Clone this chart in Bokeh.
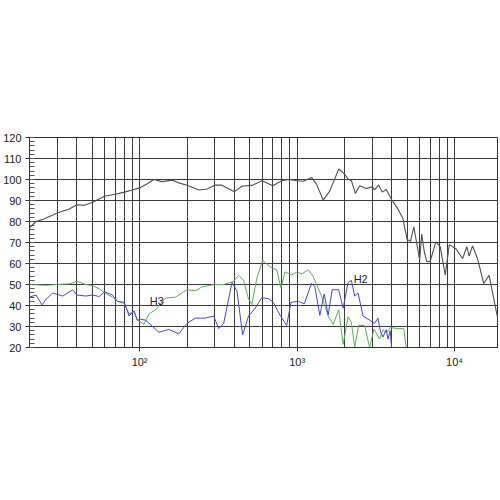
from bokeh.plotting import figure
from bokeh.models import FixedTicker, SingleIntervalTicker, Range1d, Label
from bokeh.embed import file_html
from bokeh.resources import INLINE

# Main response (black)
main_f = [20, 22, 24.3, 30, 35.8, 40, 44.5, 50, 60, 70, 80, 90, 100, 112, 123, 139, 161, 177, 200, 238, 268,
          300, 333, 400, 446, 515, 600, 700, 800, 883, 1000, 1094, 1236, 1328, 1465, 1614, 1839, 2000, 2108,
          2213, 2345, 2497, 2750, 3000, 3104, 3290, 3475, 3681, 4000, 4365, 4690, 5000, 5250, 5510, 6000,
          6180, 6420, 6670, 7000, 7600, 8100, 8730, 9250, 10200, 11240, 11960, 12370, 13000, 13970, 15300,
          16560, 18700, 20000]
main_db = [77, 80, 81, 84, 86, 88, 87.7, 89, 92, 93, 94, 95, 96, 98, 100, 99, 99.7, 98.4, 97.3, 95, 95.5,
           97.3, 97.3, 94.2, 96.8, 97.2, 99.4, 97, 99.4, 100, 99.4, 99.2, 101, 97.8, 90.2, 94.6, 105, 102.6, 100.2,
           99.4, 93.4, 97, 95.7, 96.5, 95, 97.4, 94, 95.2, 90.2, 86, 81.6, 71.4, 70.6, 77.5, 61.6,
           74, 65.6, 60.8, 61, 70.3, 68, 54.5, 69, 67, 62.4, 68, 63.5, 68.4, 62.4, 50.5,
           54.4, 34.6, 34.6]

# H3 (green)
h3_f = [20, 25.5, 30, 35.8, 40, 45.6, 50, 55.4, 60, 67.2, 72.3, 80, 85.7, 92.2, 96.8, 106.7, 114.7, 126.2,
        146, 169, 200, 226, 249, 300, 342, 395, 425, 457, 492, 516, 555, 605, 673, 742, 790, 838, 923, 1000,
        1068, 1178, 1266, 1429, 1575, 1694, 1838, 1960, 2108, 2211, 2320, 2460, 2684, 2886, 3076, 3338,
        3508, 3682, 3918, 4366, 4762, 4926]
h3_db = [50, 49.6, 50, 50.3, 51.5, 50, 49.5, 48, 46, 44, 42, 41, 36, 37, 33, 31, 36, 38,
         43.5, 44, 47.5, 47, 48.9, 50, 50, 51.5, 54.4, 52, 43, 40.5, 53, 61.5, 58.4, 57, 48.5, 56, 54.5, 56,
         55, 57, 53.7, 44.5, 35, 31, 38, 21.5, 34.6, 32, 20, 30.6, 30.5, 20, 28.8, 24,
         28.5, 27, 29.5, 29, 29, 20]

# H2 (blue)
h2_f = [20, 22, 24, 25.5, 28.1, 32.5, 37.6, 40, 45.6, 50, 55.4, 60, 67.2, 72.3, 80, 85.7, 92.2, 96.8,
        101.5, 109.2, 132.7, 153.5, 177.5, 200, 226, 261, 295, 318, 342, 386, 415, 451, 492, 541, 597,
        658, 708, 779, 859, 914, 1018, 1111, 1235, 1296, 1394, 1486, 1575, 1670, 1838, 1960, 2108, 2211,
        2320, 2438, 2622, 2820, 3104, 3262, 3388, 3508, 3682, 3774, 3900, 3980]
h2_db = [44, 45, 40.3, 43, 46, 44.5, 47.5, 45, 44.5, 45, 44.3, 46.5, 45, 42, 41.5, 35, 37.5, 33,
         33.5, 33, 27.3, 28.6, 26.5, 31.5, 34, 34, 35, 29, 31.5, 51, 47, 26, 35, 38.6, 43.7,
         43.3, 41.4, 35.4, 30.5, 41.5, 42, 40.8, 50.6, 49, 35.3, 45.5, 35.5, 47.5, 47.5, 38.7, 51, 52,
         44.5, 46, 35, 33.5, 31.5, 34, 27.5, 25, 28.5, 24, 28, 20]

x_major = [100, 1000, 10000]
x_minor = [30, 40, 50, 60, 70, 80, 90, 200, 300, 400, 500, 600, 700, 800, 900,
           2000, 3000, 4000, 5000, 6000, 7000, 8000, 9000]
x_labels = {100: "10²", 1000: "10³", 10000: "10⁴"}

p = figure(width=498, height=390, x_axis_type="log", output_backend="svg", toolbar_location=None,
           x_range=Range1d(20, 19000), y_range=Range1d(20, 120),
           min_border_left=27, min_border_right=0, min_border_top=137, min_border_bottom=43)
p.background_fill_color = "white"
p.border_fill_color = "white"
p.outline_line_color = "#333333"
p.outline_line_width = 1

grid_col = "#3a3a3a"
p.xaxis.ticker = FixedTicker(ticks=x_major, minor_ticks=x_minor)
p.xaxis.major_label_overrides = x_labels
p.xgrid.grid_line_color = grid_col
p.xgrid.minor_grid_line_color = grid_col
p.xgrid.grid_line_width = 1
p.xgrid.minor_grid_line_width = 1
p.xaxis.major_tick_in = 0
p.xaxis.major_tick_out = 4
p.xaxis.major_label_standoff = 4

p.yaxis.ticker = SingleIntervalTicker(interval=10, num_minor_ticks=5)
p.ygrid.grid_line_color = grid_col
p.ygrid.grid_line_width = 1
p.yaxis.major_tick_in = 0
p.yaxis.major_tick_out = 4
p.yaxis.minor_tick_in = 5
p.yaxis.minor_tick_out = 0
p.yaxis.major_label_standoff = 4

for ax in (p.xaxis, p.yaxis):
    ax.axis_line_color = "#333333"
    ax.major_tick_line_color = "#333333"
    ax.minor_tick_line_color = "#555555"
    ax.major_label_text_font = "Liberation Sans"
    ax.major_label_text_font_size = "11px"
    ax.major_label_text_color = "#222222"
p.xaxis.minor_tick_line_color = None

p.line(main_f, main_db, line_color="#505050", line_width=1.1)
p.line(h3_f, h3_db, line_color="#5cae5c", line_width=1)
p.line(h2_f, h2_db, line_color="#4848c8", line_width=1)

p.add_layout(Label(x=116, y=42.2, text="H3", text_font="Liberation Sans", text_font_size="11px",
                   text_color="#222222", text_baseline="middle", text_align="left"))
p.add_layout(Label(x=2286, y=52.4, text="H2", text_font="Liberation Sans", text_font_size="11px",
                   text_color="#222222", text_baseline="middle", text_align="left"))

open("out.html", "w").write(file_html(p, INLINE))
